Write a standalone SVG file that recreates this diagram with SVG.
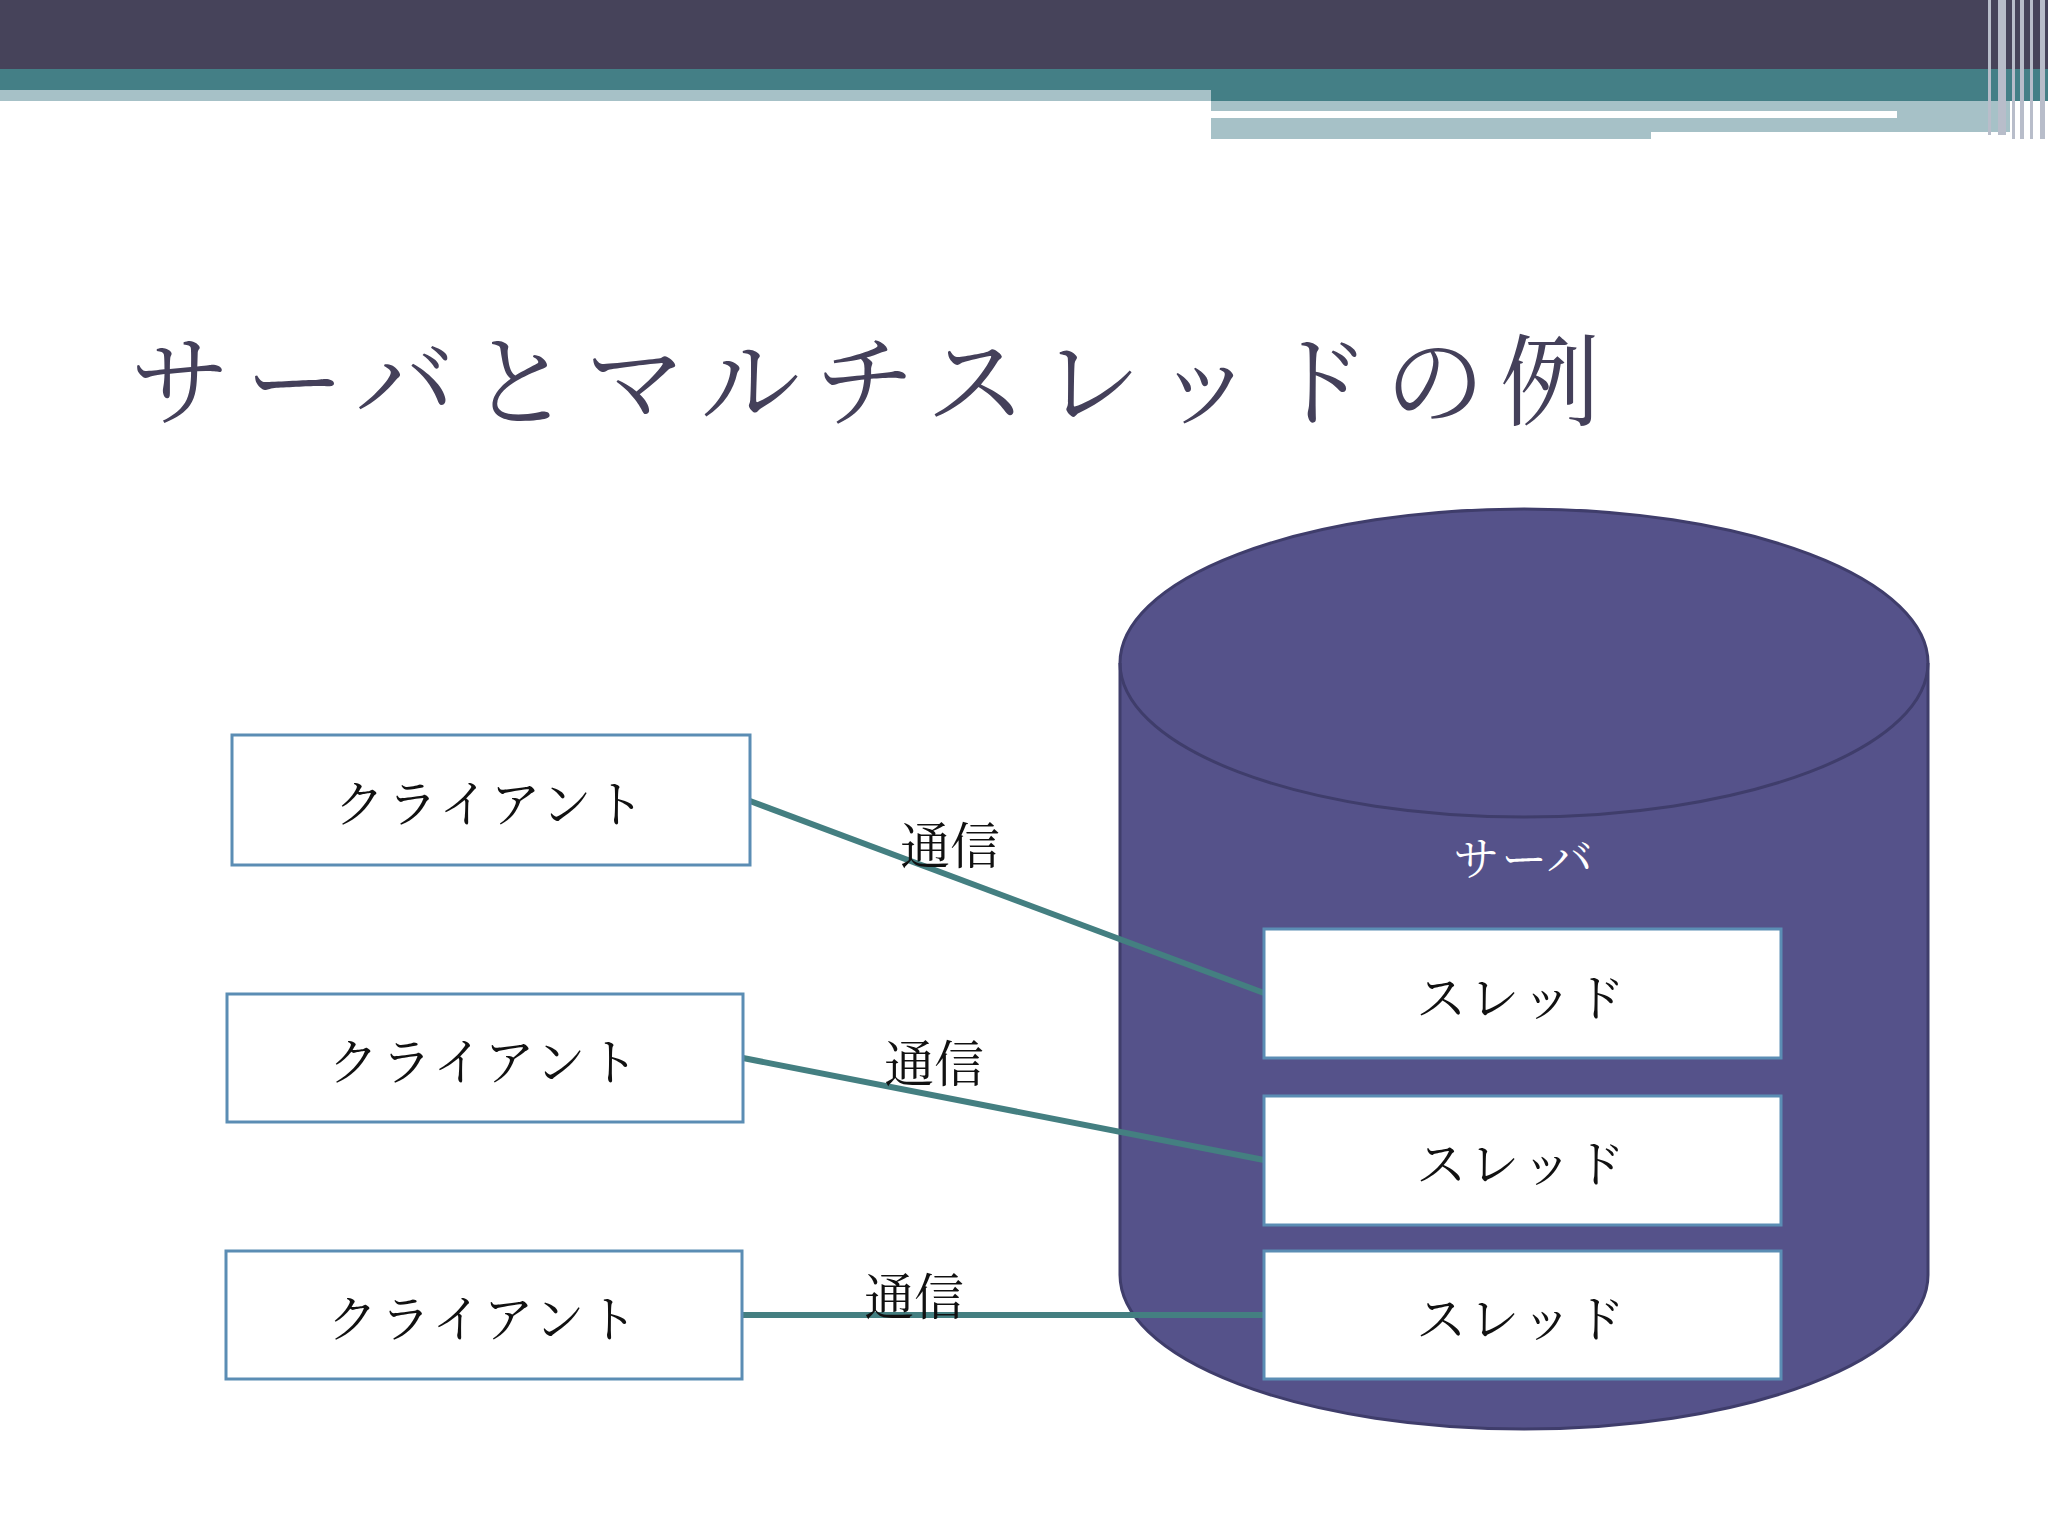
<svg xmlns="http://www.w3.org/2000/svg" width="2048" height="1536" viewBox="0 0 2048 1536">
<style>
text{font-family:"Noto Serif CJK JP","Noto Sans CJK JP",serif;}
.box{fill:#fff;stroke:#5b8db4;stroke-width:3}
.t{font-size:50px;letter-spacing:3px;text-anchor:middle;dominant-baseline:central;fill:#111}
.lbl{font-size:50px;text-anchor:middle;dominant-baseline:central;fill:#111}
.c{stroke:#447f81;stroke-width:6;fill:none}
</style>
<rect width="2048" height="1536" fill="#fff"/>
<rect x="0" y="0" width="2048" height="69" fill="#46435a"/>
<rect x="0" y="69" width="2048" height="32" fill="#447f86"/>
<rect x="0" y="90" width="1211" height="11" fill="#a6c1c7"/>
<rect x="1211" y="101" width="799" height="31" fill="#a6c1c7"/>
<rect x="1211" y="132" width="440" height="7" fill="#a6c1c7"/>
<rect x="1211" y="111" width="686" height="7" fill="#fff"/>
<g fill="#b8bdca"><rect x="1988" y="0" width="3" height="135"/><rect x="1998" y="0" width="8" height="135"/><rect x="2012" y="0" width="3" height="139"/><rect x="2020" y="0" width="4" height="139"/><rect x="2030" y="0" width="3" height="139"/><rect x="2040" y="0" width="5" height="139"/></g>
<text x="130" y="418" font-size="100" letter-spacing="15" fill="#44405a">サーバとマルチスレッドの例</text>
<g id="server">
<path d="M1120,663 A404,154 0 0 1 1928,663 V1275 A404,154 0 0 1 1120,1275 Z" fill="#55528a" stroke="#3f3d6b" stroke-width="3"/>
<path d="M1120,663 A404,154 0 0 0 1928,663" fill="none" stroke="#3f3d6b" stroke-width="3"/>
<text x="1524" y="855" font-size="46" letter-spacing="2" text-anchor="middle" dominant-baseline="central" fill="#fff">サーバ</text>
</g>
<g id="connectors">
<line class="c" x1="750" y1="801" x2="1264" y2="993"/>
<line class="c" x1="743" y1="1058" x2="1264" y2="1160"/>
<line class="c" x1="742" y1="1315" x2="1264" y2="1315"/>
<text class="lbl" x="950" y="842">通信</text>
<text class="lbl" x="934" y="1060">通信</text>
<text class="lbl" x="914" y="1293">通信</text>
</g>
<g id="client1"><rect class="box" x="232" y="735" width="518" height="130"/><text class="t" x="491" y="800">クライアント</text></g>
<g id="client2"><rect class="box" x="227" y="994" width="516" height="128"/><text class="t" x="485" y="1058">クライアント</text></g>
<g id="client3"><rect class="box" x="226" y="1251" width="516" height="128"/><text class="t" x="484" y="1315">クライアント</text></g>
<g id="thread1"><rect class="box" x="1264" y="929" width="517" height="129"/><text class="t" x="1522" y="994">スレッド</text></g>
<g id="thread2"><rect class="box" x="1264" y="1096" width="517" height="129"/><text class="t" x="1522" y="1160">スレッド</text></g>
<g id="thread3"><rect class="box" x="1264" y="1251" width="517" height="128"/><text class="t" x="1522" y="1315">スレッド</text></g>
</svg>
